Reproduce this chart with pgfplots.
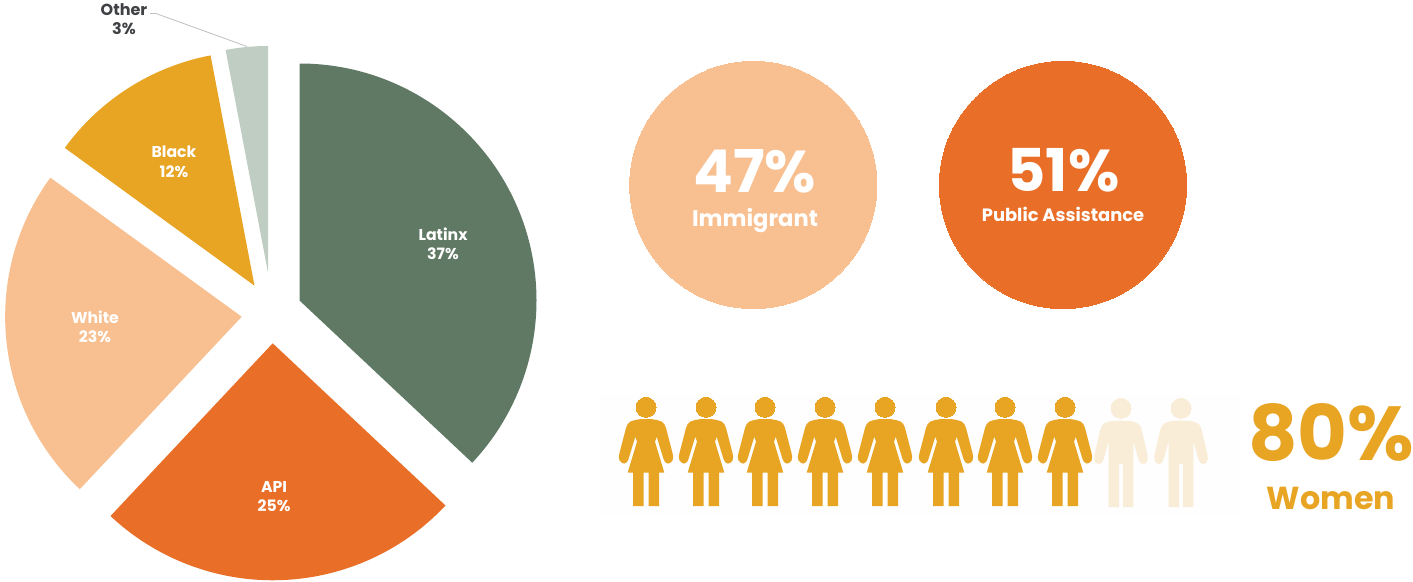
\documentclass[border=0pt]{standalone}
\usepackage{pgfplots}
\usepackage{pgfplotstable}
\usepackage{fontspec}
\pgfplotsset{compat=1.18}
\setmainfont{Poppins}

\definecolor{latinx}{HTML}{5F7964}
\definecolor{api}{HTML}{E96F28}
\definecolor{white2}{HTML}{F8C090}
\definecolor{black2}{HTML}{E8A423}
\definecolor{other}{HTML}{BFCDC2}
\definecolor{paleman}{HTML}{FAEDD8}
\definecolor{labelgrey}{HTML}{3F4144}
\definecolor{panel}{HTML}{FEFEFE}

% Outline of the woman pictogram: x relative to the figure's centre, y down the page
\pgfplotstableread{
x y
0 419
6 419.2
11 420
15.5 421.5
18.3 424
20 428
26.5 453
27.2 457
26.5 460.5
24 463
21.5 463.5
19 462
17.5 459
10.7 436.7
9 441.7
18.3 472.7
13 472.7
13 506
2.5 506
2.5 472.7
-2.5 472.7
-2.5 506
-13 506
-13 472.7
-18.3 472.7
-9 441.7
-10.7 436.7
-17.5 459
-19 462
-21.5 463.5
-24 463
-26.5 460.5
-27.2 457
-26.5 453
-20 428
-18.3 424
-15.5 421.5
-11 420
-6 419.2
}\womanshape

% Outline of the man pictogram
\pgfplotstableread{
x y
0 420.7
6 420.8
12 421.5
17 423.5
19.5 426.5
21 431
26.5 455
26.8 459
25.5 462.5
22.5 464
19.5 463
17.5 459.5
12.3 441
12.3 507
2 507
2 464
-2 464
-2 507
-12.3 507
-12.3 441
-17.5 459.5
-19.5 463
-22.5 464
-25.5 462.5
-26.8 459
-26.5 455
-21 431
-19.5 426.5
-17 423.5
-12 421.5
-6 420.8
}\manshape

\newcommand{\lbl}[5]{\node[inner sep=0pt,text=#1,font=\fontsize{#2}{#2}\selectfont\bfseries,align=center,anchor=center] at (axis cs:#3,#4) {#5};}

\begin{document}
\begin{tikzpicture}
\begin{axis}[
  x=1pt, y=1pt, y dir=reverse,
  xmin=0, xmax=1413, ymin=0, ymax=581,
  hide axis, clip=false,
  after end axis/.code={
    % Slice labels
    \lbl{white}{15.7}{443}{234.5}{Latinx}
    \lbl{white}{15.7}{443}{253.5}{37\%}
    \lbl{white}{15.7}{274}{486.5}{API}
    \lbl{white}{15.7}{274}{505.5}{25\%}
    \lbl{white}{15.7}{95}{317.5}{White}
    \lbl{white}{15.7}{95}{336.5}{23\%}
    \lbl{white}{15.7}{174}{151.5}{Black}
    \lbl{white}{15.7}{174}{171.5}{12\%}
    \lbl{labelgrey}{16}{124}{9.5}{Other}
    \lbl{labelgrey}{16}{124}{28.5}{3\%}
    % Circle captions
    \lbl{white}{59}{754.5}{171}{47\%}
    \lbl{white}{22.6}{755}{221}{Immigrant}
    \lbl{white}{59}{1063.5}{170}{51\%}
    \lbl{white}{17.9}{1063}{214}{Public Assistance}
    % Headline for the row of figures
    \lbl{black2}{76.5}{1331}{433}{80\%}
    \lbl{black2}{31.8}{1331}{498.5}{Women}
  },
]
% Pie slices: apex, start of the rim, then an arc of 3.6 degrees per percent
\addplot[fill=latinx,draw=none] coordinates {(299.5,300.5) (299.5,63.5)} arc[start angle=90,delta angle={-3.6*37},radius=237pt] -- cycle;
\addplot[fill=api,draw=none] coordinates {(272.7,343.3) (445.5,505.5)} arc[start angle=-43.2,delta angle={-3.6*25},radius=237pt] -- cycle;
\addplot[fill=white2,draw=none] coordinates {(241.7,316.7) (79.8,489.2)} arc[start angle=-133.2,delta angle={-3.6*23},radius=236.6pt] -- cycle;
\addplot[fill=black2,draw=none] coordinates {(254.5,285.7) (64.8,147.9)} arc[start angle=-216,delta angle={-3.6*12},radius=234.5pt] -- cycle;
\addplot[fill=other,draw=none] coordinates {(268,272.5) (225.6,50)} arc[start angle=-259.2,delta angle={-3.6*3},radius=226.5pt] -- cycle;

% Leader line of the smallest slice
\addplot[draw=black!25,line width=0.8pt] coordinates {(150,13.5) (156,13.5) (247,46.5)};

% Share circles
\addplot[only marks,mark=*,mark size=123.6pt,mark options={fill=white2,draw=white2,line width=0pt}] coordinates {(753.3,185)};
\addplot[only marks,mark=*,mark size=123.6pt,mark options={fill=api,draw=api,line width=0pt}] coordinates {(1063,185)};

% Faint panel behind the row of figures
\addplot[fill=panel,draw=none] coordinates {(600,395) (1240,395) (1240,515) (600,515)} -- cycle;

% Eight women and two men
\pgfplotsinvokeforeach{646,706,765,825,885,946,1005,1065}{
  \addplot[fill=black2,draw=none] table[x expr=\thisrow{x}+#1,y=y]{\womanshape} -- cycle;
  \addplot[only marks,mark=*,mark size=10pt,mark options={fill=black2,draw=black2,line width=0pt}] coordinates {(#1,407.3)};
}
\pgfplotsinvokeforeach{1121,1181}{
  \addplot[fill=paleman,draw=none] table[x expr=\thisrow{x}+#1,y=y]{\manshape} -- cycle;
  \addplot[only marks,mark=*,mark size=10pt,mark options={fill=paleman,draw=paleman,line width=0pt}] coordinates {(#1,408.3)};
}
\end{axis}
\pgfresetboundingbox
\useasboundingbox (0,0) rectangle (1413pt,581pt);
\end{tikzpicture}
\end{document}
